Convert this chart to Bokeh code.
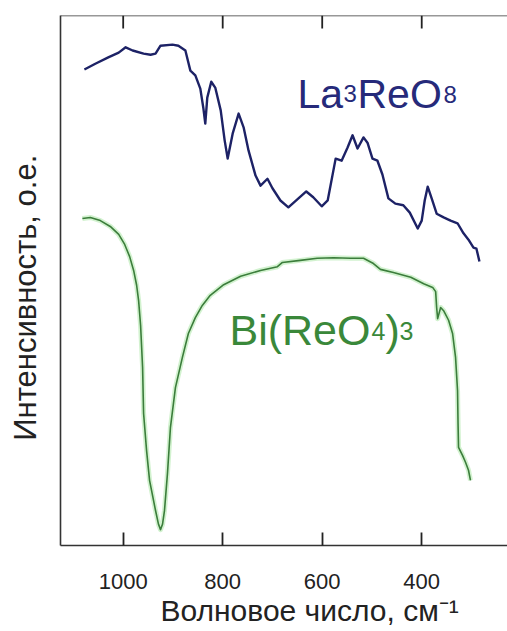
from bokeh.plotting import figure
from bokeh.models import Range1d, LinearAxis, FixedTicker, Label, Span, Title
from bokeh.embed import file_html
from bokeh.resources import INLINE

# IR spectra: wavenumber (cm^-1) and intensity (arbitrary units)
la_wn = [1078, 1056, 1030, 1009, 995, 981, 959, 945, 935, 925, 901, 889, 875, 865,
         855, 845, 839, 835, 831, 823, 815, 804, 796, 790, 780, 768, 758, 748, 734,
         724, 710, 700, 684, 668, 650, 632, 618, 601, 589, 573, 561, 549, 539, 529,
         517, 509, 499, 489, 479, 467, 453, 437, 424, 408, 400, 394, 388, 380, 370,
         356, 342, 328, 316, 306, 296, 290, 284]
la_int = [89.8, 90.9, 92.1, 93.0, 94.0, 93.4, 92.8, 92.6, 92.8, 94.3, 94.5, 94.3, 93.4, 89.6,
          88.7, 86.2, 82.6, 79.6, 84.5, 87.5, 86.4, 82.1, 76.4, 73.0, 77.7, 81.5, 78.9, 74.5, 69.8,
          67.9, 69.2, 67.4, 65.1, 63.8, 65.3, 66.8, 65.7, 64.0, 65.1, 73.0, 72.6, 75.1, 77.4, 74.9,
          77.0, 76.0, 73.0, 72.6, 70.0, 65.5, 64.5, 64.2, 62.8, 59.8, 61.3, 65.1, 67.7, 65.5, 62.6,
          61.9, 61.3, 60.8, 58.9, 57.7, 56.2, 56.0, 53.6]

bi_wn = [1082, 1066, 1046, 1026, 1009, 997, 987, 979, 973, 969, 965, 961, 959, 953, 947,
         935, 929, 925, 921, 917, 911, 905, 895, 881, 869, 855, 841, 825, 798, 764,
         724, 690, 680, 644, 610, 577, 543, 517, 497, 483, 457, 422, 396, 378, 372,
         370, 368, 362, 356, 346, 338, 332, 328, 327, 326, 318, 312, 306, 302]
bi_int = [61.7, 61.9, 61.3, 60.2, 58.7, 56.8, 54.5, 51.9, 49.1, 46.2, 41.5, 33.6, 24.9, 17.9, 12.3,
          6.6, 4.0, 3.0, 4.0, 6.6, 13.6, 22.3, 29.8, 35.5, 40.0, 43.0, 45.3, 47.2, 49.2, 50.8,
          51.9, 52.6, 53.4, 53.8, 54.2, 54.3, 54.2, 54.2, 53.2, 52.1, 51.5, 50.6, 49.4, 48.7, 47.9,
          44.9, 42.8, 44.9, 44.3, 42.5, 40.0, 35.5, 29.2, 23.0, 18.5, 17.0, 15.7, 14.2, 12.3]

x_ticks = [1000, 800, 600, 400]

# frame geometry (canvas pixels) and the ranges it shows
FRAME_L, FRAME_R, FRAME_T, FRAME_B = 60, 507, 15, 545
X_LEFT, X_RIGHT = 1126.0, 227.6
Y_BOT, Y_TOP = 0.0, 100.0
TICK_LEN = 13  # px, ticks point into the frame

FONT = "Liberation Sans"
AXIS_COLOR = "#333333"
TICK_COLOR = "#222222"
TEXT_COLOR = "#222222"
BLUE = "#1d2266"
GREEN = "#3b7d3b"
NBSP = "\u00a0"

p = figure(width=507, height=631,
           x_range=Range1d(X_LEFT, X_RIGHT), y_range=Range1d(Y_BOT, Y_TOP),
           x_axis_type=None, y_axis_type=None,
           output_backend="svg", toolbar_location=None,
           min_border_left=FRAME_L, min_border_right=507 - FRAME_R,
           min_border_top=FRAME_T, min_border_bottom=631 - FRAME_B)
p.outline_line_color = None
p.background_fill_color = "white"
p.border_fill_color = "white"

bottom = LinearAxis(ticker=FixedTicker(ticks=x_ticks),
                    major_tick_in=TICK_LEN, major_tick_out=0,
                    minor_tick_in=0, minor_tick_out=0,
                    major_label_text_font=FONT, major_label_text_font_size="22px",
                    major_label_text_color=TEXT_COLOR, major_label_standoff=28,
                    axis_line_color=AXIS_COLOR, axis_line_width=1.6,
                    major_tick_line_color=TICK_COLOR, major_tick_line_width=1.8)
p.add_layout(bottom, "below")

# left spine carries the intensity title (trailing spaces move it down the spine)
left = LinearAxis(ticker=FixedTicker(ticks=[]),
                  axis_label="Интенсивность, о.е." + NBSP * 4,
                  axis_label_standoff=18,
                  axis_label_text_font=FONT, axis_label_text_font_size="31px",
                  axis_label_text_font_style="normal", axis_label_text_color=TEXT_COLOR,
                  major_tick_in=0, major_tick_out=0,
                  minor_tick_in=0, minor_tick_out=0,
                  axis_line_color=AXIS_COLOR, axis_line_width=1.6)
p.add_layout(left, "left")

# wavenumber title under the tick labels
p.add_layout(Title(text="Волновое число, см⁻¹", align="left", offset=100, standoff=0,
                   text_font=FONT, text_font_size="30px", text_font_style="normal",
                   text_color=TEXT_COLOR), "below")

# top border with inward ticks
p.add_layout(Span(location=Y_TOP, dimension="width", line_color=AXIS_COLOR, line_width=1.6))
tick_dy = TICK_LEN * (Y_TOP - Y_BOT) / (FRAME_B - FRAME_T)
p.segment(x0=x_ticks, y0=[Y_TOP] * len(x_ticks), x1=x_ticks, y1=[Y_TOP - tick_dy] * len(x_ticks),
          line_color=TICK_COLOR, line_width=1.8)

# spectra
p.line(bi_wn, bi_int, line_color="#a6e6a0", line_width=5, line_alpha=0.5, line_join="round")
p.line(bi_wn, bi_int, line_color=GREEN, line_width=1.6, line_join="round")
p.line(la_wn, la_int, line_color=BLUE, line_width=2.4, line_join="round")


def to_x(px):
    return X_LEFT + (px - FRAME_L) * (X_RIGHT - X_LEFT) / (FRAME_R - FRAME_L)


def to_y(py):
    return Y_BOT + (FRAME_B - py) * (Y_TOP - Y_BOT) / (FRAME_B - FRAME_T)


def add_text(px, py, text, size, color):
    p.add_layout(Label(x=to_x(px), y=to_y(py), text=text,
                       text_font=FONT, text_font_size=size, text_color=color,
                       text_align="left", text_baseline="alphabetic"))


# compound labels with subscripts
LA_COLOR = "#262a7a"
add_text(297, 93, "La", "41px", LA_COLOR)
add_text(343, 93, "3", "24px", LA_COLOR)
add_text(357, 93, "ReO", "41px", LA_COLOR)
add_text(443, 94, "8", "24px", LA_COLOR)

BI_COLOR = "#3a883a"
add_text(229, 329, "Bi(ReO", "43px", BI_COLOR)
add_text(371, 330, "4", "25px", BI_COLOR)
add_text(385, 329, ")", "43px", BI_COLOR)
add_text(399, 330, "3", "25px", BI_COLOR)

open("out.html", "w").write(file_html(p, INLINE))
